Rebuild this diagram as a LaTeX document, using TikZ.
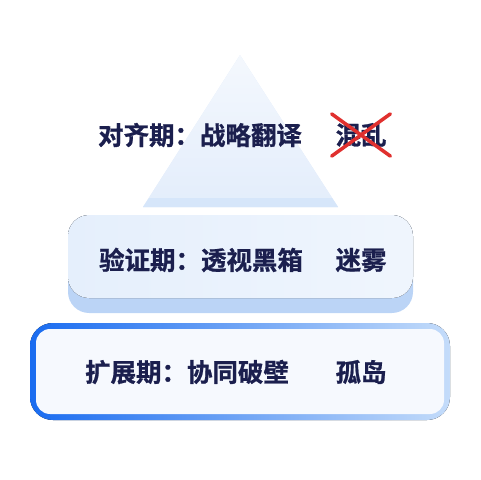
\documentclass[tikz,border=0pt]{standalone}
\usepackage{fontspec}
\newfontfamily\cjk{Noto Sans CJK SC}[BoldFont={Noto Sans CJK SC Bold},BoldFeatures={FakeBold=0.9}]
\definecolor{navy}{HTML}{1B1F4E}
\definecolor{crossred}{HTML}{E0302E}
\definecolor{tribody}{HTML}{E3EDFB}
\definecolor{tribase}{HTML}{D6E6FA}
\definecolor{boxface}{HTML}{E5EFFC}
\definecolor{boxside}{HTML}{BBD4F6}
\definecolor{rimdark}{HTML}{1A6CF0}
\definecolor{rimlight}{HTML}{C4DCFA}
\definecolor{innerfill}{HTML}{F6F9FE}

\begin{document}
\begin{tikzpicture}[x=0.02cm,y=-0.02cm,
    label/.style={font=\cjk\bfseries\fontsize{14.5pt}{16pt}\selectfont,text=navy,inner sep=1pt},
    cross/.style={crossred,line width=2pt,line cap=round}]
    \useasboundingbox (0,0) rectangle (480,480);
    % top: triangle
    \fill [tribody,top color=white!60!tribody,bottom color=tribody] (240,55) -- (338,207) -- (143,207) -- cycle;
    \fill [tribase] (149,198) -- (332,198) -- (338,207) -- (143,207) -- cycle;
    % middle: raised box
    \fill [boxside,rounded corners=12] (68,215) rectangle (413,313);
    \fill [rounded corners=12,left color=boxface,right color=white!40!boxface] (68,215) rectangle (413,298);
    % bottom: framed box
    \fill [rounded corners=13,left color=rimdark,right color=rimlight] (30,323) rectangle (450,420);
    \fill [rounded corners=8,innerfill] (36,329) rectangle (444,414);
    % texts
    \node [label] (align) at (200,135) {对齐期：战略翻译};
    \node [label] (chaos) at (361,135) {混乱};
    \node [label] (verify) at (201,260) {验证期：透视黑箱};
    \node [label] (fog) at (361,260) {迷雾};
    \node [label] (expand) at (187,372) {扩展期：协同破壁};
    \node [label] (island) at (361,372) {孤岛};
    \draw [cross] ([shift={(-1pt,4pt)}]chaos.north west) -- ([shift={(1pt,-4pt)}]chaos.south east);
    \draw [cross] ([shift={(-1pt,-4pt)}]chaos.south west) -- ([shift={(1pt,4pt)}]chaos.north east);
\end{tikzpicture}
\end{document}
